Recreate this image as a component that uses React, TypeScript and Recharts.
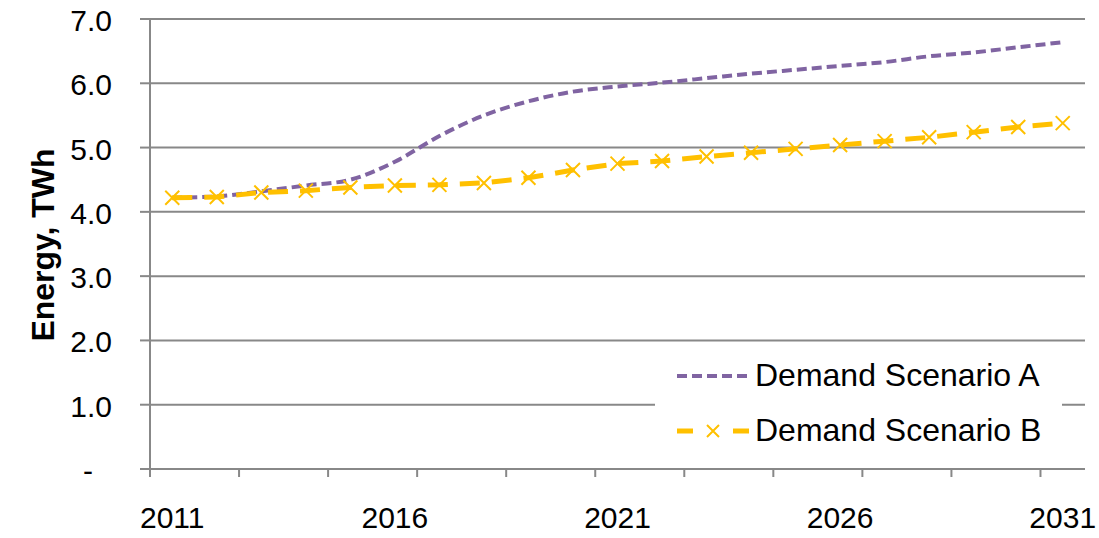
import { LineChart, Line, XAxis, YAxis, CartesianGrid, Legend } from "recharts";

const years = [
  2011, 2012, 2013, 2014, 2015, 2016, 2017, 2018, 2019, 2020, 2021, 2022,
  2023, 2024, 2025, 2026, 2027, 2028, 2029, 2030, 2031,
];
const scenarioA = [
  4.22, 4.24, 4.32, 4.41, 4.5, 4.78, 5.18, 5.5, 5.72, 5.87, 5.95, 6.01, 6.08,
  6.15, 6.21, 6.27, 6.33, 6.42, 6.48, 6.56, 6.64,
];
const scenarioB = [
  4.22, 4.23, 4.3, 4.33, 4.38, 4.41, 4.42, 4.45, 4.53, 4.65, 4.75, 4.79, 4.86,
  4.92, 4.98, 5.04, 5.1, 5.16, 5.24, 5.32, 5.38,
];
const yTicks = [0, 1, 2, 3, 4, 5, 6, 7];
const xLabelYears = [2011, 2016, 2021, 2026, 2031];
const xBoundaryTicks = [
  2010.5, 2012.5, 2014.5, 2016.5, 2018.5, 2020.5, 2022.5, 2024.5, 2026.5,
  2028.5, 2030.5,
];

const FONT = "Arial, 'Liberation Sans', sans-serif";
const GRID = "#888888";
const PURPLE = "#8064A2";
const GOLD = "#FFC000";

const data = years.map((year, i) => ({
  year,
  a: scenarioA[i],
  b: scenarioB[i],
}));

const XTick = ({ x, y, payload }: any) => {
  const v = payload.value;
  if (xLabelYears.includes(v)) {
    return (
      <text x={x} y={y + 59} textAnchor="middle" fontSize={30} fill="#000" fontFamily={FONT}>
        {v}
      </text>
    );
  }
  return <line x1={x} y1={y} x2={x} y2={y + 8} stroke={GRID} strokeWidth={2} />;
};

const YTick = ({ x, y, payload }: any) => {
  const v = payload.value;
  return (
    <text
      x={v === 0 ? x - 19 : x}
      y={y + 12}
      textAnchor="end"
      fontSize={30}
      fill="#000"
      fontFamily={FONT}
    >
      {v === 0 ? "-" : v.toFixed(1)}
    </text>
  );
};

const CrossDot = (props: any) => {
  const { cx, cy, index } = props;
  if (cx == null || cy == null) return <g key={`d-${index}`} />;
  const s = 7;
  return (
    <path
      key={`d-${index}`}
      d={`M${cx - s},${cy - s}L${cx + s},${cy + s}M${cx - s},${cy + s}L${cx + s},${cy - s}`}
      stroke={GOLD}
      strokeWidth={2}
      fill="none"
    />
  );
};

const LegendIcon = ({ kind }: { kind: string }) => (
  <svg width={72} height={20} style={{ display: "block" }}>
    {kind === "a" ? (
      <line x1={0} y1={10} x2={72} y2={10} stroke={PURPLE} strokeWidth={4} strokeDasharray="10 5" />
    ) : (
      <g>
        <line x1={0} y1={10} x2={16} y2={10} stroke={GOLD} strokeWidth={5} />
        <line x1={56} y1={10} x2={72} y2={10} stroke={GOLD} strokeWidth={5} />
        <path d="M30,4L42,16M30,16L42,4" stroke={GOLD} strokeWidth={2} />
      </g>
    )}
  </svg>
);

const renderLegend = (props: any) => {
  const { payload = [] } = props;
  return (
    <div style={{ background: "#fff", width: 407, fontFamily: FONT }}>
      {payload.map((entry: any) => (
        <div
          key={entry.value}
          style={{ display: "flex", alignItems: "center", height: 55, paddingLeft: 22 }}
        >
          <LegendIcon kind={entry.dataKey} />
          <span style={{ fontSize: 32, color: "#000", marginLeft: 6, lineHeight: "55px" }}>
            {entry.value}
          </span>
        </div>
      ))}
    </div>
  );
};

export default function App() {
  return (
    <div style={{ position: "absolute", left: 0, top: 0, background: "#fff" }}>
      <LineChart
        width={1099}
        height={538}
        data={data}
        margin={{ top: 19, right: 14, left: 0, bottom: 0 }}
      >
        <CartesianGrid vertical={false} stroke={GRID} strokeWidth={2} />
        <XAxis
          dataKey="year"
          type="number"
          domain={[2010.5, 2031.5]}
          ticks={[...xBoundaryTicks, ...xLabelYears].sort((p, q) => p - q)}
          interval={0}
          height={69}
          tickLine={false}
          tickSize={0}
          tickMargin={0}
          tick={<XTick />}
          axisLine={{ stroke: GRID, strokeWidth: 2 }}
        />
        <YAxis
          type="number"
          domain={[0, 7]}
          ticks={yTicks}
          interval={0}
          width={150}
          tickSize={10}
          tickMargin={28}
          tick={<YTick />}
          tickLine={{ stroke: GRID, strokeWidth: 2 }}
          axisLine={{ stroke: GRID, strokeWidth: 2 }}
        />
        <Legend
          layout="horizontal"
          verticalAlign="middle"
          align="center"
          content={renderLegend}
          wrapperStyle={{ left: 655, top: 348, width: 407, height: 110 }}
        />
        <Line
          dataKey="a"
          name="Demand Scenario A"
          type="monotone"
          stroke={PURPLE}
          strokeWidth={4}
          strokeDasharray="10 5"
          dot={false}
          isAnimationActive={false}
        />
        <Line
          dataKey="b"
          name="Demand Scenario B"
          type="linear"
          stroke={GOLD}
          strokeWidth={5}
          strokeDasharray="20 12"
          dot={<CrossDot />}
          isAnimationActive={false}
        />
      </LineChart>
      <div
        style={{
          position: "absolute",
          left: 43,
          top: 245,
          transform: "translate(-50%, -50%) rotate(-90deg)",
          whiteSpace: "nowrap",
          fontFamily: FONT,
          fontWeight: "bold",
          fontSize: 32,
          color: "#000",
        }}
      >
        Energy, TWh
      </div>
    </div>
  );
}
